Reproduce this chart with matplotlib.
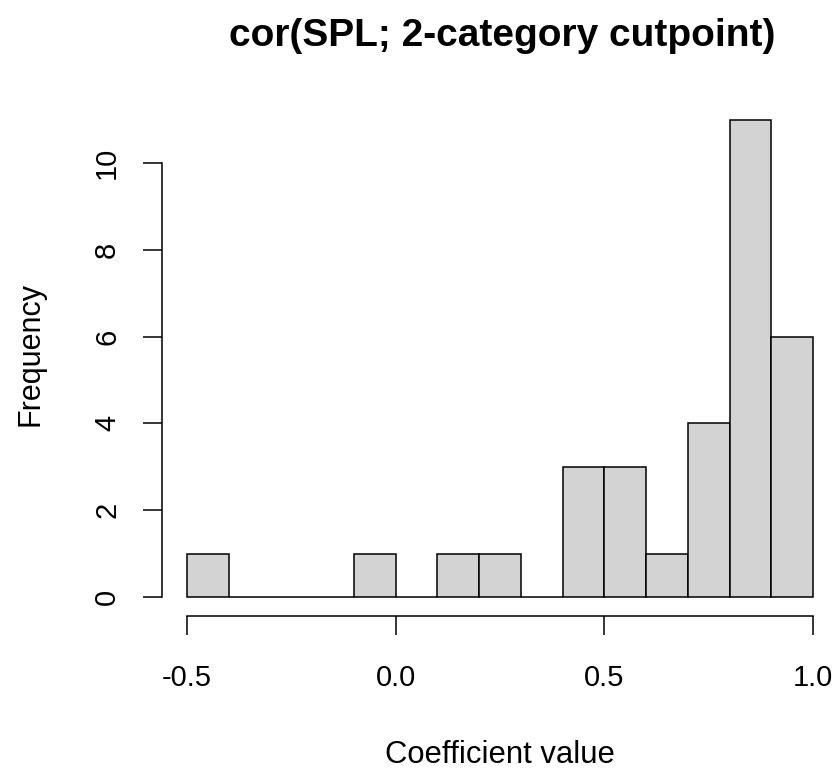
import matplotlib
matplotlib.use("Agg")
import matplotlib.pyplot as plt
import numpy as np

plt.rcParams['font.family'] = ['Liberation Sans', 'DejaVu Sans']

bin_edges = [-0.5, -0.4, -0.3, -0.2, -0.1, 0.0, 0.1, 0.2, 0.3, 0.4, 0.5, 0.6, 0.7, 0.8, 0.9, 1.0]
counts = [1, 0, 0, 0, 1, 0, 1, 1, 0, 3, 3, 1, 4, 11, 6]
x_ticks = [-0.5, 0.0, 0.5, 1.0]
x_tick_labels = ["-0.5", "0.0", "0.5", "1.0"]
y_ticks = [0, 2, 4, 6, 8, 10]
title = "cor(SPL; 2-category cutpoint)"
xlabel = "Coefficient value"
ylabel = "Frequency"

W, H = 839, 770
fig = plt.figure(figsize=(W / 100, H / 100), dpi=100)
ax = fig.add_axes([162 / W, (H - 616) / H, (838 - 162) / W, (616 - 100.5) / H])

edges = np.array(bin_edges)
ax.bar(edges[:-1], counts, width=np.diff(edges), align='edge',
       color='#D3D3D3', edgecolor='black', linewidth=1.1)

ax.set_xlim(-0.56, 1.06)
ax.set_ylim(-0.44, 11.44)
for s in ['top', 'right']:
    ax.spines[s].set_visible(False)
ax.spines['left'].set_bounds(0, 10)
ax.spines['bottom'].set_bounds(-0.5, 1.0)
for s in ['left', 'bottom']:
    ax.spines[s].set_linewidth(1.1)

ax.set_xticks(x_ticks)
ax.set_xticklabels(x_tick_labels)
ax.set_yticks(y_ticks)
ax.set_yticklabels([str(v) for v in y_ticks], rotation=90, va='center')
ax.tick_params(axis='both', length=13.5, width=1.1, labelsize=21, direction='out')
ax.tick_params(axis='x', pad=21)
ax.tick_params(axis='y', pad=16)

fig.text(502 / W, 1 - 46 / H, title, ha='center', va='baseline',
         fontsize=28, fontweight='bold')
fig.text((162 + 838) / 2 / W, 1 - 763 / H, xlabel, ha='center', va='baseline', fontsize=22.3)
fig.text(39 / W, 1 - 354 / H, ylabel, ha='center', va='baseline', fontsize=22,
         rotation=90, rotation_mode='anchor')

fig.savefig("out.png", dpi=100)
